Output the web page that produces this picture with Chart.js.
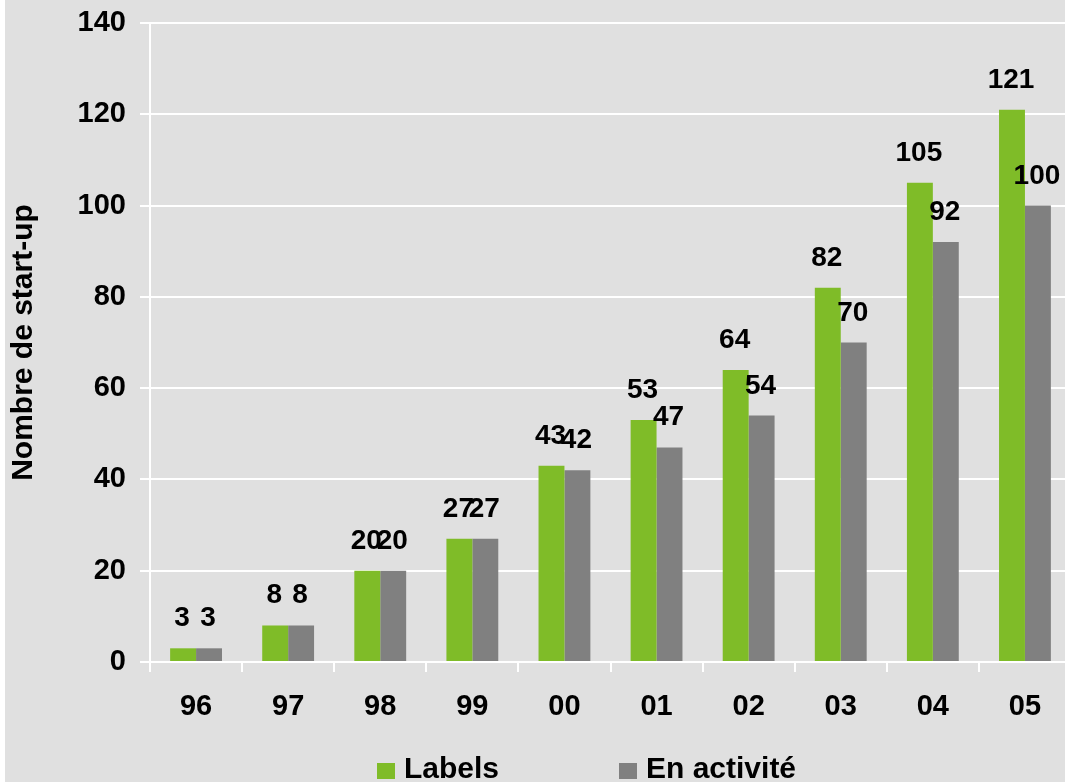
<!DOCTYPE html>
<html>
<head>
<meta charset="utf-8">
<script src="https://cdn.jsdelivr.net/npm/chart.js@4.4.1/dist/chart.umd.min.js"></script>
<style>
   html, body { margin: 0; padding: 0; background: #ffffff; width: 1065px; height: 782px; overflow: hidden; }
   #wrap { position: absolute; left: 5px; top: 0; width: 1066px; height: 782px; background: #e0e0e0; }
   #legend { position: absolute; top: 751px; left: 0; font: bold 30px "Liberation Sans", Arial, sans-serif; color: #000; }
   .item { position: absolute; white-space: nowrap; display: flex; align-items: center; }
   .box { display: inline-block; width: 18px; height: 16px; margin-right: 9px; margin-top: 6px; }
</style>
</head>
<body>
<div id="wrap">
   <canvas id="chart"></canvas>
   <div id="legend"></div>
</div>
<script>
   // Data
   const years      = ["96", "97", "98", "99", "00", "01", "02", "03", "04", "05"];
   const labelled   = [3, 8, 20, 27, 43, 53, 64, 82, 105, 121];
   const active     = [3, 8, 20, 27, 42, 47, 54, 70, 92, 100];
   const yTicks     = [0, 20, 40, 60, 80, 100, 120, 140];
   const seriesNames = ["Labels", "En activité"];

   const greenColor = "#7fbc28";
   const grayColor  = "#808080";
   const fontFamily = "'Liberation Sans', Arial, sans-serif";

   // Values drawn above each bar
   const valueLabels = {
      id: "valueLabels",
      afterDatasetsDraw(chart) {
         const ctx = chart.ctx;
         ctx.save();
         ctx.font = `bold 28px ${fontFamily}`;
         ctx.fillStyle = "#000";
         ctx.textAlign = "center";
         ctx.textBaseline = "alphabetic";
         chart.data.datasets.forEach((ds, i) => {
            chart.getDatasetMeta(i).data.forEach((bar, j) => {
               ctx.fillText(String(ds.data[j]), bar.x - 1, bar.y - 22);
            });
         });
         ctx.restore();
      }
   };

   const chart = new Chart(document.getElementById("chart"), {
      type: "bar",
      data: {
         labels: years,
         datasets: [
            { label: seriesNames[0], data: labelled, backgroundColor: greenColor },
            { label: seriesNames[1], data: active, backgroundColor: grayColor }
         ]
      },
      options: {
         responsive: true,
         maintainAspectRatio: false,
         animation: false,
         datasets: { bar: { categoryPercentage: 0.563, barPercentage: 1.0 } },
         layout: { padding: { top: 23, right: 0, left: 0, bottom: 0 } },
         plugins: {
            legend: { display: false },
            tooltip: { enabled: false }
         },
         scales: {
            y: {
               min: 0,
               max: 140,
               afterFit: s => { s.width = 145; s.paddingTop = 0; s.paddingBottom = 0; },
               afterBuildTicks: s => { s.ticks = yTicks.map(v => ({ value: v })); },
               border: { color: "#ffffff", width: 2 },
               grid: { color: "#ffffff", lineWidth: 2, tickLength: 10 },
               ticks: {
                  padding: 14,
                  color: "#000",
                  font: { family: fontFamily, size: 29, weight: "bold" }
               },
               title: {
                  display: true,
                  text: "Nombre de start-up",
                  color: "#000",
                  padding: { top: 1, bottom: 0 },
                  font: { family: fontFamily, size: 30, weight: "bold" }
               }
            },
            x: {
               afterFit: s => { s.height = 120; },
               border: { color: "#ffffff", width: 2 },
               grid: { color: "#ffffff", lineWidth: 2, tickLength: 10, drawOnChartArea: false },
               ticks: {
                  padding: 18,
                  color: "#000",
                  font: { family: fontFamily, size: 29, weight: "bold" }
               }
            }
         }
      },
      plugins: [valueLabels]
   });

   // Legend built from the chart's datasets
   const legend = document.getElementById("legend");
   const legendLeft = [372, 614];
   chart.data.datasets.forEach((ds, i) => {
      const item = document.createElement("div");
      item.className = "item";
      item.style.left = legendLeft[i] + "px";
      const box = document.createElement("span");
      box.className = "box";
      box.style.background = ds.backgroundColor;
      const txt = document.createElement("span");
      txt.textContent = ds.label;
      item.appendChild(box);
      item.appendChild(txt);
      legend.appendChild(item);
   });
</script>
</body>
</html>
